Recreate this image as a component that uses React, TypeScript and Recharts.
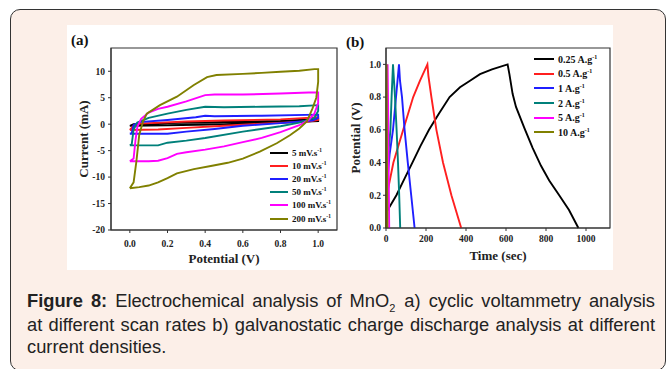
import { LineChart, Line, XAxis, YAxis, ReferenceArea, Legend } from "recharts";

const serif = '"Liberation Serif", "Times New Roman", serif';
const sans = '"Liberation Sans", Arial, sans-serif';

// series colours, same order in both panels
const colors = ["#000000", "#ff1f1f", "#1f1fff", "#00807a", "#ff00ff", "#808000"];

// (a) cyclic voltammetry: [potential V, current mA], each loop closed
const cvRates = ["5", "10", "20", "50", "100", "200"];
const cv5 = [[0, -0.3], [0.02, 0], [0.2, 0.2], [0.5, 0.4], [0.8, 0.6], [1.0, 1.0], [1.0, 0.6], [0.8, 0.3], [0.5, 0], [0.2, -0.2], [0, -0.3]];
const cv10 = [[0, -1.1], [0.02, -0.3], [0.05, 0.1], [0.3, 0.5], [0.5, 0.7], [0.8, 0.9], [1.0, 1.3], [1.0, 0.8], [0.95, 0.5], [0.7, 0.1], [0.5, -0.3], [0.3, -0.7], [0.15, -1.0], [0, -1.1]];
const cv20 = [[0, -1.8], [0.01, -1.7], [0.02, -0.2], [0.05, 0.4], [0.2, 0.8], [0.35, 1.3], [0.4, 1.6], [0.45, 1.5], [0.7, 1.6], [1.0, 1.8], [1.0, 1.2], [0.97, 0.7], [0.8, 0.2], [0.6, -0.3], [0.45, -0.9], [0.3, -1.4], [0.2, -1.8], [0, -1.8]];
const cv50 = [[0, -4], [0.01, -3.8], [0.02, -1], [0.04, 0.3], [0.1, 1.2], [0.2, 2], [0.3, 2.7], [0.4, 3.3], [0.5, 3.2], [0.7, 3.3], [0.9, 3.4], [1.0, 3.6], [1.0, 2.5], [0.98, 1.2], [0.9, 0.3], [0.8, -0.4], [0.6, -1.4], [0.4, -2.6], [0.3, -3.1], [0.2, -3.5], [0.15, -4], [0.05, -4], [0, -4]];
const cv100 = [[0, -7], [0.02, -6.5], [0.03, -3], [0.04, -0.5], [0.06, 1], [0.1, 2.2], [0.15, 2.9], [0.2, 3.3], [0.3, 4.3], [0.4, 5.5], [0.45, 5.6], [0.6, 5.6], [0.8, 5.8], [0.95, 6], [1.0, 6], [1.0, 4], [0.98, 2], [0.95, 0.8], [0.9, -0.2], [0.8, -1.5], [0.7, -2.6], [0.6, -3.4], [0.5, -4.2], [0.4, -4.8], [0.3, -5.3], [0.25, -5.6], [0.2, -6.4], [0.15, -6.9], [0.1, -7], [0, -7]];
const cv200 = [[0, -12.1], [0.02, -11], [0.035, -7], [0.05, -2], [0.07, 0.5], [0.09, 2], [0.16, 3.6], [0.25, 5.2], [0.34, 7.4], [0.41, 8.9], [0.46, 9.3], [0.6, 9.5], [0.7, 9.7], [0.8, 9.9], [0.9, 10.1], [0.98, 10.4], [1.0, 10.4], [1.0, 8], [0.99, 5], [0.97, 3], [0.94, 0.5], [0.9, -0.8], [0.85, -2.1], [0.78, -3.6], [0.69, -5.2], [0.6, -6.5], [0.52, -7.3], [0.43, -7.9], [0.34, -8.5], [0.25, -9.3], [0.2, -10.2], [0.15, -11], [0.1, -11.6], [0.05, -11.9], [0, -12.1]];
const cvLoops = [cv5, cv10, cv20, cv50, cv100, cv200];
const cvXTicks = [0, 0.2, 0.4, 0.6, 0.8, 1.0];
const cvYTicks = [-20, -15, -10, -5, 0, 5, 10];

// (b) galvanostatic charge discharge: [time s, potential V]
const gcdCurrents = ["0.25", "0.5", "1", "2", "5", "10"];
const gcd025 = [[0, 0], [4, 0.1], [52, 0.2], [92, 0.3], [132, 0.4], [172, 0.5], [215, 0.6], [265, 0.7], [318, 0.8], [370, 0.86], [420, 0.9], [470, 0.94], [530, 0.97], [608, 1.0], [617, 0.94], [633, 0.82], [650, 0.74], [692, 0.61], [733, 0.49], [775, 0.38], [816, 0.29], [866, 0.2], [915, 0.11], [962, 0]];
const gcd05 = [[0, 0], [4, 0.2], [37, 0.4], [86, 0.6], [136, 0.8], [170, 0.9], [207, 1.0], [212, 0.93], [227, 0.8], [252, 0.6], [285, 0.4], [327, 0.2], [376, 0]];
const gcd1 = [[0, 0], [4, 0.25], [18, 0.45], [35, 0.6], [50, 0.8], [65, 1.0], [70, 0.9], [80, 0.8], [93, 0.6], [109, 0.4], [126, 0.2], [143, 0]];
const gcd2 = [[0, 0], [3, 0.3], [15, 0.5], [22, 0.6], [28, 0.8], [35, 1.0], [40, 0.9], [45, 0.8], [53, 0.6], [60, 0.4], [66, 0.2], [71, 0]];
const gcd5 = [[0, 0], [2, 0.4], [5, 0.8], [8, 1.0], [11, 0.7], [13, 0.4], [16, 0]];
const gcd10 = [[0, 0], [1, 0.5], [3, 1.0], [4, 0.7], [5, 0.4], [7, 0]];
const gcdCurves = [gcd025, gcd05, gcd1, gcd2, gcd5, gcd10];
const gcdXTicks = [0, 200, 400, 600, 800, 1000];
const gcdYTicks = [0, 0.2, 0.4, 0.6, 0.8, 1.0];

const toPts = (arr: number[][]) => arr.map(([x, y]) => ({ x, y }));

const tickStyle = { fill: "#222", fontSize: 9.5, fontFamily: serif, fontWeight: 700 };
const titleStyle = { fill: "#222", fontSize: 13, fontFamily: serif, fontWeight: 700, textAnchor: "middle" as const };

const seriesLegend = (labels: string[], unit: string, rowH: number, lineW: number, fontSize: number) => () => (
  <div style={{ fontFamily: serif, fontWeight: 700, fontSize, color: "#111" }}>
    {labels.map((l, i) => (
      <div key={l} style={{ display: "flex", alignItems: "center", height: rowH, whiteSpace: "nowrap" }}>
        <span style={{ display: "inline-block", width: lineW, height: 2, background: colors[i], marginRight: 4 }} />
        <span>
          {l} {unit}
          <sup style={{ fontSize: "0.6em", lineHeight: 0 }}>-1</sup>
        </span>
      </div>
    ))}
  </div>
);

const justified = { textAlign: "justify" as const, textAlignLast: "justify" as const };

export default function App() {
  return (
    <div style={{ position: "absolute", left: 0, top: 0, width: 667, height: 369, overflow: "hidden", background: "#fff" }}>
      <div style={{ position: "absolute", left: 10, top: 9, width: 656, height: 362, boxSizing: "border-box", border: "1.5px solid #333", borderRadius: 10, background: "#fcefe8" }} />
      <div style={{ position: "absolute", left: 67, top: 25, width: 546, height: 245, background: "#fff" }} />

      <div style={{ position: "absolute", left: 71, top: 31, fontFamily: serif, fontWeight: 700, fontSize: 15, lineHeight: "18px", color: "#111" }}>(a)</div>
      <div style={{ position: "absolute", left: 346, top: 33, fontFamily: serif, fontWeight: 700, fontSize: 15, lineHeight: "18px", color: "#111" }}>(b)</div>

      <div style={{ position: "absolute", left: 60, top: 25 }}>
        <LineChart width={285} height={245} margin={{ top: 23, right: 8, left: 0, bottom: 0 }}>
          <XAxis type="number" dataKey="x" domain={[-0.1, 1.1]} ticks={cvXTicks} tickFormatter={(v: number) => v.toFixed(1)} height={40} stroke="#333" tick={tickStyle} tickSize={3} tickMargin={7} label={{ value: "Potential (V)", position: "insideBottom", offset: 7, style: titleStyle }} />
          <YAxis type="number" domain={[-20, 14.4]} ticks={cvYTicks} width={51} stroke="#333" tick={tickStyle} tickSize={3} tickMargin={3} label={{ value: "Current (mA)", angle: -90, position: "insideLeft", offset: 23, style: titleStyle }} />
          {cvLoops.map((loop, i) => (
            <Line key={cvRates[i]} name={cvRates[i]} data={toPts(loop)} dataKey="y" type="linear" stroke={colors[i]} strokeWidth={1.9} dot={false} isAnimationActive={false} />
          ))}
          <ReferenceArea x1={-0.1} x2={1.1} y1={-20} y2={14.4} fill="none" stroke="#333" strokeWidth={1.2} />
          <Legend layout="vertical" align="center" verticalAlign="middle" wrapperStyle={{ left: 210, top: 121, width: 80 }} content={seriesLegend(cvRates, "mV.s", 13.2, 18, 9)} />
        </LineChart>
      </div>

      <div style={{ position: "absolute", left: 340, top: 25 }}>
        <LineChart width={280} height={245} margin={{ top: 23, right: 10, left: 0, bottom: 0 }}>
          <XAxis type="number" dataKey="x" domain={[0, 1120]} ticks={gcdXTicks} height={42} stroke="#333" tick={tickStyle} tickSize={3} tickMargin={4} label={{ value: "Time (sec)", position: "insideBottom", offset: 10.5, style: titleStyle }} />
          <YAxis type="number" domain={[0, 1.1]} ticks={gcdYTicks} tickFormatter={(v: number) => v.toFixed(1)} width={46} stroke="#333" tick={tickStyle} tickSize={3} tickMargin={2} label={{ value: "Potential (V)", angle: -90, position: "insideLeft", offset: 15, style: titleStyle }} />
          {gcdCurves.map((c, i) => (
            <Line key={gcdCurrents[i]} name={gcdCurrents[i]} data={toPts(c)} dataKey="y" type="linear" stroke={colors[i]} strokeWidth={1.9} dot={false} isAnimationActive={false} />
          ))}
          <ReferenceArea x1={0} x2={1120} y1={0} y2={1.1} fill="none" stroke="#333" strokeWidth={1.2} />
          <Legend layout="vertical" align="center" verticalAlign="middle" wrapperStyle={{ left: 194, top: 27, width: 80 }} content={seriesLegend(gcdCurrents, "A.g", 14.6, 20, 10)} />
        </LineChart>
      </div>

      <div style={{ position: "absolute", left: 27, top: 290, width: 628, fontFamily: sans, fontSize: 18.3, lineHeight: "21.3px", color: "#222" }}>
        <div style={justified}>
          <b>Figure 8:</b> Electrochemical analysis of MnO<span style={{ fontSize: "0.6em", position: "relative", top: "0.45em", marginRight: 1 }}>2</span> a) cyclic voltammetry analysis
        </div>
        <div style={justified}>at different scan rates b) galvanostatic charge discharge analysis at different</div>
        <div>current densities.</div>
      </div>
    </div>
  );
}
